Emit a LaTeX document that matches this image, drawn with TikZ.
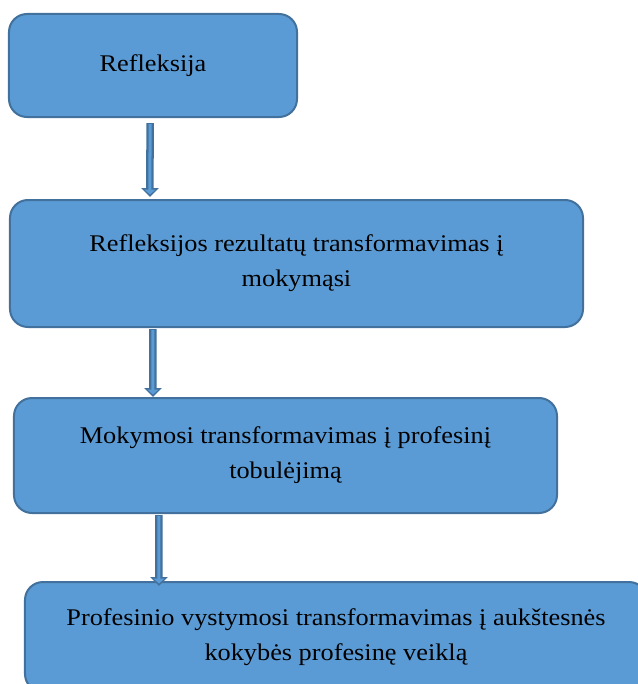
\documentclass[tikz,border=0pt]{standalone}
\usepackage{fontspec}
\setmainfont{Liberation Serif}[FakeStretch=1.1]
\usetikzlibrary{calc,arrows.meta}
\definecolor{boxfill}{HTML}{5B9BD5}
\definecolor{boxline}{HTML}{41719C}
\tikzset{
  x=1bp, y=-1bp,
  flowbox/.style={draw=boxline, fill=boxfill, line width=2bp, rounded corners=18bp,
    inner sep=0pt, align=center, text=black, font=\fontsize{24}{35}\selectfont},
  arrowout/.style={draw=boxline, line width=7.5bp, -{Triangle[length=9bp,width=17bp]}},
  arrowin/.style={draw=boxfill, line width=3bp, -{Triangle[length=5bp,width=11bp]}, shorten >=2.5bp, shorten <=1bp},
}
\begin{document}
\begin{tikzpicture}
\useasboundingbox (0,0) rectangle (638,684);
\clip (0,0) rectangle (638,684);
\fill[white] (0,0) rectangle (638,684);
\node[flowbox, minimum width=288bp, minimum height=103bp] (b1) at (153,65.5) {Refleksija};
\node[flowbox, minimum width=573bp, minimum height=127bp] (b2) at (296.5,263.5) {Refleksijos rezultatų transformavimas į\\mokymąsi};
\node[flowbox, minimum width=543bp, minimum height=115bp] (b3) at (285.5,455.5) {Mokymosi transformavimas į profesinį\\tobulėjimą};
\node[flowbox, minimum width=622bp, minimum height=110bp] (b4) at (336,637) {Profesinio vystymosi transformavimas į aukštesnės\\kokybės profesinę veiklą};
\coordinate (a1s) at ($(b1.south west)+(142,5)$);
\coordinate (a1e) at ($(b2.north west)+(141,-2)$);
\coordinate (a2s) at ($(b2.south west)+(144,1)$);
\coordinate (a2e) at ($(b3.north west)+(140,0)$);
\coordinate (a3s) at ($(b3.south west)+(146,1)$);
\coordinate (a3e) at ($(b4.north west)+(135,5)$);
\foreach \s/\e in {a1s/a1e,a2s/a2e,a3s/a3e}{
  \draw[arrowout] (\s) -- (\e);
  \draw[arrowin] (\s) -- (\e);
}
\end{tikzpicture}
\end{document}
